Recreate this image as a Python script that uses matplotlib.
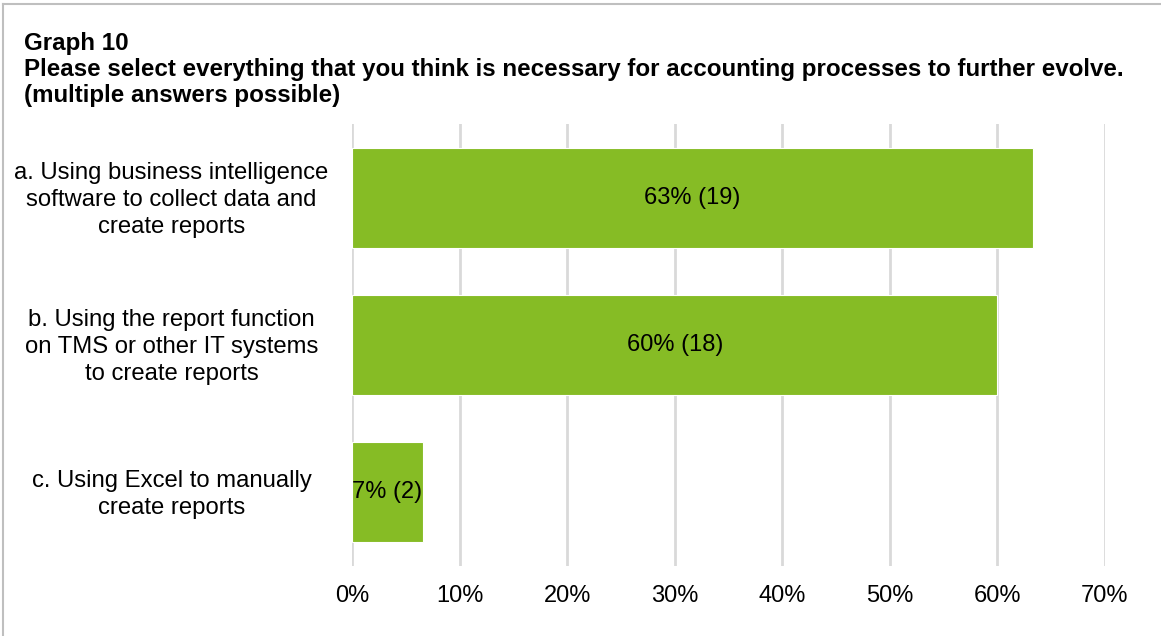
import matplotlib.pyplot as plt
from matplotlib.lines import Line2D
from matplotlib.transforms import ScaledTranslation

plt.rcParams['font.family'] = ['Liberation Sans', 'DejaVu Sans']

# --- DATA ---
categories = [
    'a. Using business intelligence\nsoftware to collect data and\ncreate reports',
    'b. Using the report function\non TMS or other IT systems\nto create reports',
    'c. Using Excel to manually\ncreate reports',
]
shares = [63.3, 60.0, 6.6]
counts = [19, 18, 2]
x_ticks = [0, 10, 20, 30, 40, 50, 60, 70]

GREEN = '#86BC25'
GRID = '#D9D9D9'

fig = plt.figure(figsize=(11.61, 6.36), dpi=100)
ax = fig.add_axes([352 / 1161, 1 - 566 / 636, (1105 - 352) / 1161, (566 - 124) / 636])

pos = list(range(len(categories)))
ax.barh(pos, shares, height=0.68, color=GREEN, edgecolor='white', linewidth=0.8, zorder=2)

for p, s, c in zip(pos, shares, counts):
    ax.text(s / 2, p, f'{round(s)}% ({c})', ha='center', va='center',
            fontsize=17, color='black', zorder=3)

ax.set_xlim(0, 70)
ax.set_ylim(2.5, -0.5)
ax.set_xticks(x_ticks)
ax.set_xticklabels([f'{t}%' for t in x_ticks], fontsize=17)
ax.set_yticks(pos)
ax.set_yticklabels(categories, fontsize=17.2, linespacing=1.3, ha='center')
ax.tick_params(axis='y', length=0, pad=130)
ax.tick_params(axis='x', length=0, pad=14)
ax.xaxis.grid(True, color=GRID, linewidth=2, zorder=0)
ax.set_axisbelow(True)
for sp in ax.spines.values():
    sp.set_visible(False)

# nudge category labels up a little
shift = ScaledTranslation(0, 3 / 100, fig.dpi_scale_trans)
for lbl in ax.get_yticklabels():
    lbl.set_transform(lbl.get_transform() + shift)

fig.text(24 / 1161, 1 - 32 / 636,
         'Graph 10\nPlease select everything that you think is necessary for accounting processes to further evolve.\n(multiple answers possible)',
         ha='left', va='top', fontsize=17.4, fontweight='bold', linespacing=1.17)

# frame around the figure (top and left edges visible)
fig.add_artist(Line2D([3 / 1161, 1], [1 - 4 / 636, 1 - 4 / 636], color='#BFBFBF', linewidth=1.5))
fig.add_artist(Line2D([3 / 1161, 3 / 1161], [0, 1 - 4 / 636], color='#BFBFBF', linewidth=1.5))

fig.savefig('out.png', dpi=100)
